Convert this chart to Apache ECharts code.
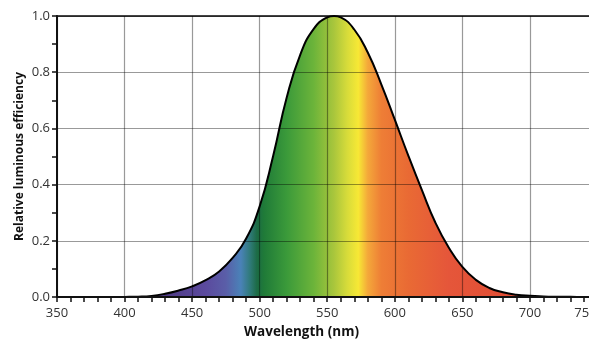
<!DOCTYPE html>
<html>
<head>
<meta charset="utf-8">
<script src="https://cdn.jsdelivr.net/npm/echarts@6/dist/echarts.min.js"></script>
<style>
  html, body { margin: 0; padding: 0; background: #fff; }
  #chart { width: 589px; height: 340px; }
</style>
</head>
<body>
<div id="chart"></div>
<script>
// wavelength (nm) and relative luminous efficiency
var wavelengths = [360, 370, 380, 390, 400, 410, 420, 430, 440, 450, 460, 470, 480, 490,
    500, 510, 520, 530, 540, 550, 555, 560, 570, 580, 590, 600, 610, 620, 630, 640,
    650, 660, 670, 680, 690, 700, 710, 720, 730, 740, 750, 760];
var efficiency = [0.000004, 0.00001, 0.00004, 0.00012, 0.0004, 0.0012, 0.004, 0.0116, 0.023, 0.038,
    0.06, 0.091, 0.139, 0.208, 0.323, 0.503, 0.71, 0.862, 0.954, 0.995, 1.0, 0.995,
    0.952, 0.87, 0.757, 0.631, 0.503, 0.381, 0.265, 0.175, 0.107, 0.061, 0.032,
    0.017, 0.0082, 0.0041, 0.0021, 0.00105, 0.00052, 0.00025, 0.00012, 0.00006];

// spectrum colours by wavelength for the fill under the curve
var spectrumNm = [360, 430, 460, 475, 486, 493, 498, 503, 520, 540, 555, 565, 573, 580, 590, 610, 640, 700];
var spectrumColor = ['#3d2a5a', '#4f3a85', '#5b4a9e', '#5a5ea8', '#4a82b8', '#2f7a78', '#1c6b45',
    '#1f7a38', '#3b9a3a', '#6cb43a', '#a9c63c', '#d8dc3a', '#f7e835', '#f4a83a',
    '#ee7e36', '#e96a34', '#e5563a', '#e04a32'];

var chart = echarts.init(document.getElementById('chart'));

var lo = wavelengths[0], hi = wavelengths[wavelengths.length - 1];
var stops = spectrumNm.map(function (nm, i) {
    return { offset: (nm - lo) / (hi - lo), color: spectrumColor[i] };
});

var points = wavelengths.map(function (w, i) { return [w, efficiency[i]]; });

var font = 'Open Sans';

var option = {
    animation: false,
    backgroundColor: '#fff',
    grid: { left: 57, top: 16, height: 281, width: 554, outerBoundsMode: 'none', containLabel: false },
    xAxis: [{
        type: 'value',
        min: 350,
        max: 760,
        interval: 50,
        z: 5,
        axisLine: { show: true, lineStyle: { color: '#111', width: 2 } },
        axisTick: { show: true, length: 5, lineStyle: { color: '#111', width: 1.5 } },
        minorTick: { show: true, splitNumber: 5, length: 5, lineStyle: { color: '#111', width: 1.5 } },
        axisLabel: {
            color: '#333', fontFamily: font, fontSize: 13, margin: 10,
            formatter: function (v) {
                if (v === 750) return '{last|750}';
                return v % 50 === 0 ? String(v) : '';
            },
            rich: {
                last: { color: '#333', fontFamily: font, fontSize: 13, padding: [0, 24, 0, 0] }
            }
        },
        splitLine: { show: true, lineStyle: { color: 'rgba(0,0,0,0.4)', width: 1.2 } }
    }, {
        type: 'value',
        position: 'top',
        min: 350,
        max: 760,
        axisLine: { show: true, onZero: false, lineStyle: { color: '#444', width: 2 } },
        axisTick: { show: false },
        axisLabel: { show: false },
        splitLine: { show: false }
    }],
    yAxis: {
        type: 'value',
        min: 0,
        max: 1,
        interval: 0.2,
        z: 5,
        name: 'Relative luminous efficiency',
        nameLocation: 'middle',
        nameGap: 31,
        nameMoveOverlap: false,
        nameTextStyle: { color: '#111', fontFamily: font, fontSize: 12, fontWeight: 'bold' },
        axisLine: { show: true, lineStyle: { color: '#111', width: 2 } },
        axisTick: { show: true, length: 5, lineStyle: { color: '#111', width: 1.5 } },
        minorTick: { show: true, splitNumber: 2, length: 5, lineStyle: { color: '#111', width: 1.5 } },
        axisLabel: {
            color: '#333', fontFamily: font, fontSize: 13, margin: 7,
            formatter: function (v) { return v.toFixed(1); }
        },
        splitLine: { show: true, lineStyle: { color: 'rgba(0,0,0,0.4)', width: 1 } }
    },
    graphic: [{
        type: 'text',
        left: 244,
        top: 325,
        style: {
            text: 'Wavelength (nm)',
            fill: '#111',
            font: 'bold 13.5px "Open Sans"'
        }
    }],
    series: [{
        type: 'line',
        data: points,
        smooth: true,
        symbol: 'none',
        z: 2,
        lineStyle: { color: '#000', width: 2 },
        areaStyle: {
            opacity: 1,
            color: new echarts.graphic.LinearGradient(0, 0, 1, 0, stops)
        }
    }]
};

chart.setOption(option);
</script>
</body>
</html>
